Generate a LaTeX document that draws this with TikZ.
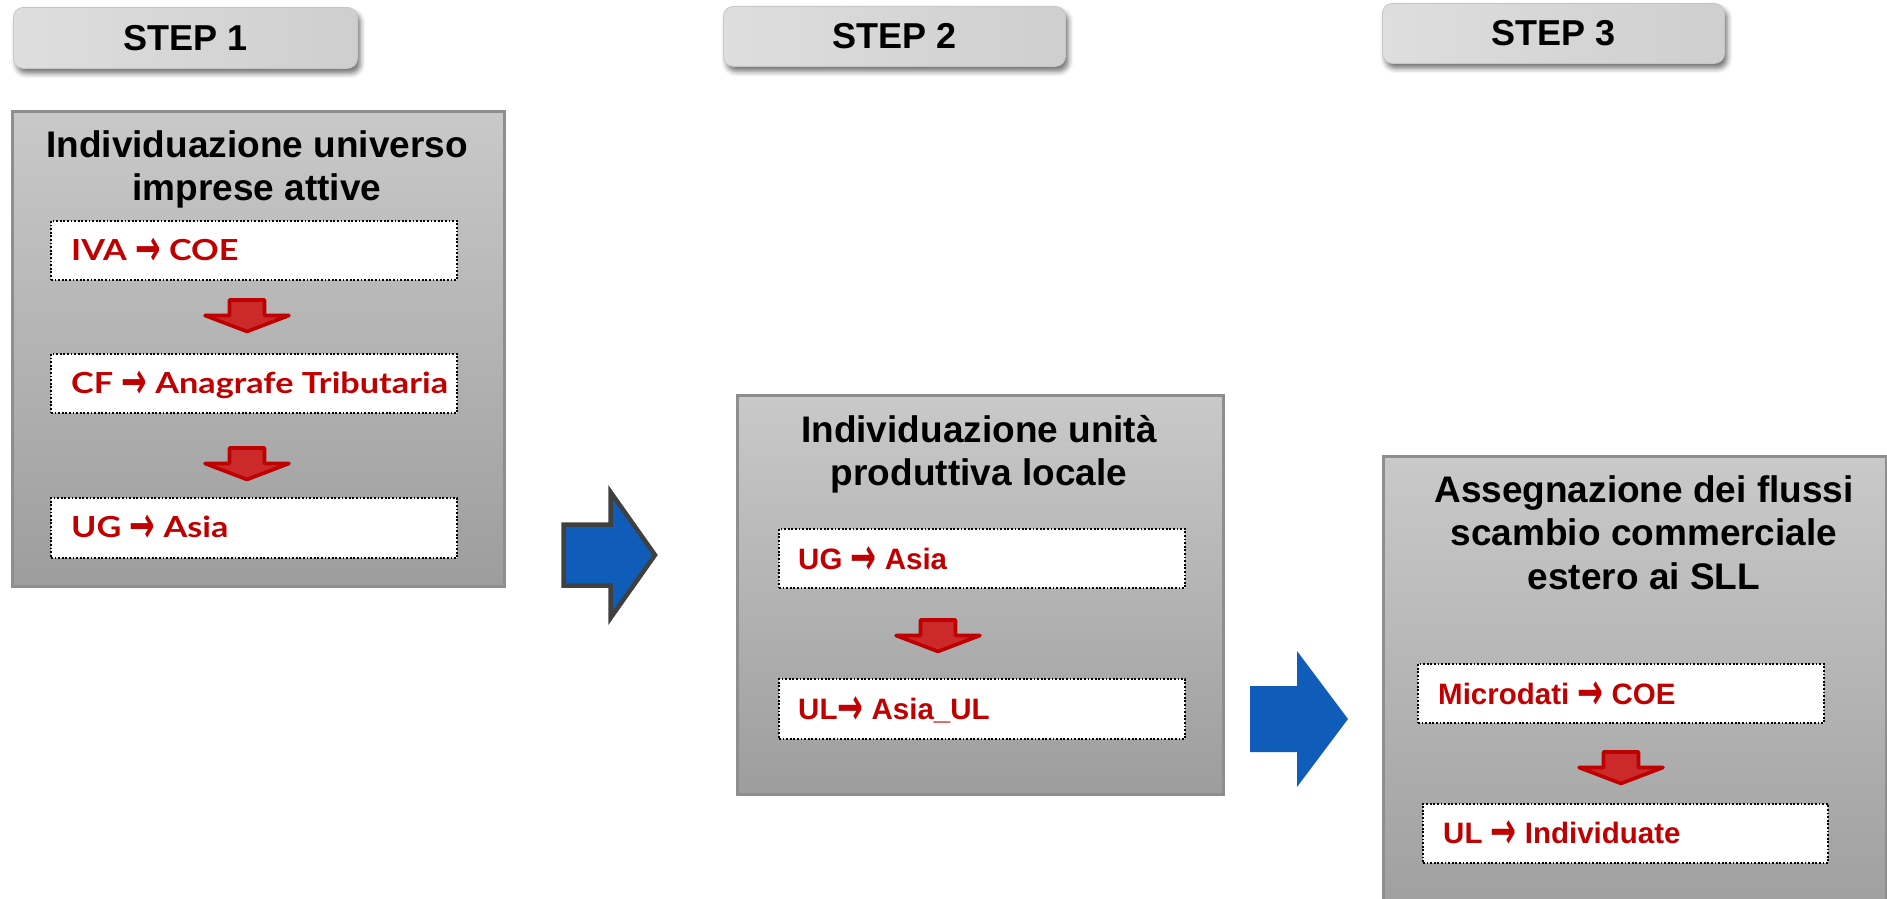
\documentclass[tikz,border=0pt]{standalone}
\usepackage{fontspec}
\setmainfont{Liberation Sans}
\newfontfamily\gillfont{Lato}[FakeStretch=1.18]
\newfontfamily\arrfont{DejaVu Sans}
\usetikzlibrary{shadows.blur}
\definecolor{redtxt}{HTML}{C00000}
\definecolor{redfill}{HTML}{CC2A2A}
\definecolor{redline}{HTML}{BE0000}
\definecolor{bluefill}{HTML}{0F5DB9}
\definecolor{blueline}{HTML}{404040}
\definecolor{boxtop}{HTML}{C9C9C9}
\definecolor{boxbot}{HTML}{9D9D9D}
\definecolor{boxline}{HTML}{8E8E8E}
\newcommand\rarr{\raisebox{-0.2em}{\scalebox{1.05}[1.75]{\arrfont\bfseries →}}}
\tikzset{
  stepbox/.style={rounded corners=10pt, left color=black!13, middle color=white!97!black, right color=black!19,
    draw=black!22, line width=0.8pt, inner sep=0pt,
    blur shadow={shadow xshift=3pt, shadow yshift=-5pt, shadow blur radius=5pt, shadow opacity=55},
    font=\fontsize{36}{43}\selectfont\bfseries},
  mainbox/.style={top color=boxtop, bottom color=boxbot, draw=boxline, line width=2.5pt, inner sep=0pt, anchor=north west},
  titletext/.style={align=center, inner sep=0pt, anchor=north, font=\fontsize{37}{43.5}\selectfont\bfseries},
  dotbox/.style={fill=white, draw=black, line width=1.8pt, dash pattern=on 1.8pt off 1.8pt, inner sep=0pt, anchor=north west},
  redgill/.style={text=redtxt, inner sep=0pt, anchor=base west, font=\gillfont\fontsize{29}{30}\selectfont\bfseries},
  redarial/.style={text=redtxt, inner sep=0pt, anchor=base west, font=\fontsize{29.5}{32}\selectfont\bfseries},
  redarr/.pic={
    \draw[fill=redfill, draw=redline, line width=3.6pt, line join=round]
      (-17.5,2) -- (17.5,2) -- (17.5,17.5) -- (42,17.5) -- (0,33.5) -- (-42,17.5) -- (-17.5,17.5) -- cycle;
  }
}
\begin{document}
\begin{tikzpicture}[x=1pt,y=-1pt]
\useasboundingbox (0,0) rectangle (1887,899);
\clip (0,0) rectangle (1887,899);

% STEP labels
\node[stepbox, minimum width=344pt, minimum height=61pt, anchor=north west] (st1) at (13,7) {STEP 1};
\node[stepbox, minimum width=342pt, minimum height=60pt, anchor=north west] (st2) at (723,6) {STEP 2};
\node[stepbox, minimum width=342pt, minimum height=60pt, anchor=north west] (st3) at (1382,3) {STEP 3};

% main boxes
\node[mainbox, minimum width=492pt, minimum height=475pt] (m1) at (11,110) {};
\node[mainbox, minimum width=486pt, minimum height=399pt] (m2) at (736,394) {};
\node[mainbox, minimum width=503pt, minimum height=480pt] (m3) at (1382,455) {};

% titles
\node[titletext] (t1) at (257,127) {\rule{0pt}{30pt}Individuazione universo\\imprese attive};
\node[titletext] (t2) at (979,412) {\rule{0pt}{30pt}Individuazione unità\\produttiva locale};
\node[titletext] (t3) at (1644,472) {\rule{0pt}{30pt}Assegnazione dei flussi\\scambio commerciale\\estero ai SLL};

% step 1 inner boxes
\node[dotbox, minimum width=406pt, minimum height=59pt] (b11) at (50,220) {};
\node[dotbox, minimum width=406pt, minimum height=59pt] (b12) at (50,353) {};
\node[dotbox, minimum width=406pt, minimum height=60pt] (b13) at (50,497) {};
\node[redgill] (x11) at (71,260) {IVA \rarr{} COE};
\node[redgill] (x12) at (71,393) {CF \rarr{} Anagrafe Tributaria};
\node[redgill] (x13) at (71,537) {UG \rarr{} Asia};
\pic at (247,298) {redarr};
\pic at (247,446) {redarr};

% step 2 inner boxes
\node[dotbox, minimum width=406pt, minimum height=59pt] (b21) at (778,528) {};
\node[dotbox, minimum width=406pt, minimum height=60pt] (b22) at (778,678) {};
\node[redarial] (x21) at (798,569) {UG \rarr{} Asia};
\node[redarial] (x22) at (798,719) {UL\rarr{} Asia\_UL};
\pic at (938,618) {redarr};

% step 3 inner boxes
\node[dotbox, minimum width=406pt, minimum height=59pt] (b31) at (1417,663) {};
\node[dotbox, minimum width=405pt, minimum height=59pt] (b32) at (1422,803) {};
\node[redarial] (x31) at (1438,704) {Microdati \rarr{} COE};
\node[redarial] (x32) at (1443,843) {UL \rarr{} Individuate};
\pic at (1621,750) {redarr};

% blue arrows
\draw[fill=bluefill, draw=blueline, line width=4.5pt, line join=miter]
  (563.5,524.5) -- (610.5,524.5) -- (610.5,492) -- (655,555) -- (610.5,618) -- (610.5,585.5) -- (563.5,585.5) -- cycle;
\fill[bluefill]
  (1250,686) -- (1297,686) -- (1297,651) -- (1348,719) -- (1297,787) -- (1297,752) -- (1250,752) -- cycle;
\end{tikzpicture}
\end{document}
